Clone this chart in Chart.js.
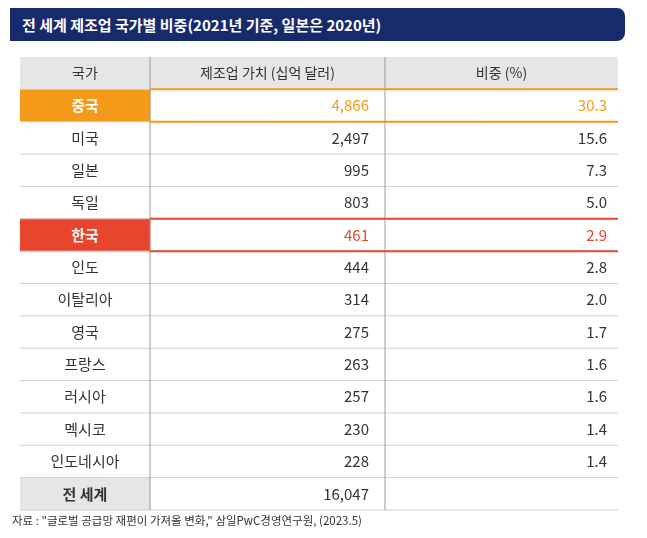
<!DOCTYPE html>
<html><head><meta charset="utf-8">
<script src="https://cdn.jsdelivr.net/npm/chart.js@4"></script>
<style>
body{margin:0;background:#fff;font-family:"Noto Sans CJK KR",sans-serif;}
#wrap{position:relative;width:647px;height:538px;}
#title{position:absolute;left:10px;top:8px;width:615px;height:33px;background:#172a6b;border-radius:0 8px 8px 0;color:#fff;font-size:15px;font-weight:bold;line-height:33px;padding-left:12px;box-sizing:border-box;}
#src{position:absolute;left:12px;top:512px;font-size:11.5px;color:#333;}
</style></head>
<body><div id="wrap">
<canvas id="c" width="647" height="538"></canvas>
<div id="title">전 세계 제조업 국가별 비중(2021년 기준, 일본은 2020년)</div>
<div id="src">자료 : "글로벌 공급망 재편이 가져올 변화," 삼일PwC경영연구원, (2023.5)</div>
</div>
<script>
// table data
const headers = ['국가', '제조업 가치 (십억 달러)', '비중 (%)'];
const countries = ['중국','미국','일본','독일','한국','인도','이탈리아','영국','프랑스','러시아','멕시코','인도네시아','전 세계'];
const values = [4866, 2497, 995, 803, 461, 444, 314, 275, 263, 257, 230, 228, 16047];
const shares = [30.3, 15.6, 7.3, 5.0, 2.9, 2.8, 2.0, 1.7, 1.6, 1.6, 1.4, 1.4, null];

const rowLabels = ['header'].concat(countries);
const colEdges = [0, 130, 365, 598];
const ORANGE = '#f39a1a', RED = '#e8452f', GREY = '#e6e6e6';

function rowColor(name) {
  if (name === '중국') return ORANGE;
  if (name === '한국') return RED;
  return null;
}

const cellData = rowLabels.map((r, i) => {
  if (i === 0) return [colEdges[0], colEdges[3]];
  if (rowColor(r) || r === '전 세계') return [colEdges[0], colEdges[1]];
  return null;
});
const cellColors = rowLabels.map((r, i) => i === 0 || r === '전 세계' ? GREY : (rowColor(r) || GREY));

const tablePlugin = {
  id: 'tableText',
  afterDatasetsDraw(chart) {
    const ctx = chart.ctx, xs = chart.scales.x, ys = chart.scales.y, area = chart.chartArea;
    const band = area.height / rowLabels.length;
    ctx.save();
    // horizontal lines
    rowLabels.forEach((r, i) => {
      const yb = ys.getPixelForValue(i) + band / 2;
      ctx.strokeStyle = '#d0d0d0'; ctx.lineWidth = 1;
      ctx.beginPath(); ctx.moveTo(area.left, yb); ctx.lineTo(area.right, yb); ctx.stroke();
    });
    // vertical lines
    [1, 2].forEach(k => {
      const x = xs.getPixelForValue(colEdges[k]);
      ctx.strokeStyle = '#9a9a9a';
      ctx.beginPath(); ctx.moveTo(x, area.top); ctx.lineTo(x, area.bottom); ctx.stroke();
    });
    // highlighted row borders
    rowLabels.forEach((r, i) => {
      const c = rowColor(r);
      if (!c) return;
      const y = ys.getPixelForValue(i);
      ctx.strokeStyle = c; ctx.lineWidth = 2;
      [y - band / 2, y + band / 2].forEach(yy => {
        ctx.beginPath(); ctx.moveTo(xs.getPixelForValue(colEdges[1]), yy); ctx.lineTo(area.right, yy); ctx.stroke();
      });
    });
    ctx.textBaseline = 'middle';
    rowLabels.forEach((r, i) => {
      const y = ys.getPixelForValue(i);
      const mid = k => (xs.getPixelForValue(colEdges[k]) + xs.getPixelForValue(colEdges[k + 1])) / 2;
      if (i === 0) {
        ctx.fillStyle = '#333'; ctx.font = '14px "Noto Sans CJK KR"'; ctx.textAlign = 'center';
        headers.forEach((h, k) => ctx.fillText(h, mid(k), y));
        return;
      }
      const j = i - 1, c = rowColor(r), total = r === '전 세계';
      ctx.font = (total || c ? 'bold ' : '') + '15px "Noto Sans CJK KR"';
      ctx.textAlign = 'center';
      ctx.fillStyle = c ? '#fff' : '#333';
      ctx.fillText(r, mid(0), y);
      ctx.font = '15px "Noto Sans CJK KR"';
      ctx.textAlign = 'right';
      ctx.fillStyle = c || '#333';
      ctx.fillText(values[j].toLocaleString('en-US'), xs.getPixelForValue(colEdges[2]) - 16, y);
      if (shares[j] !== null) ctx.fillText(shares[j].toFixed(1), xs.getPixelForValue(colEdges[3]) - 11, y);
    });
    ctx.restore();
  }
};

new Chart(document.getElementById('c'), {
  type: 'bar',
  data: {
    labels: rowLabels,
    datasets: [{
      data: cellData,
      backgroundColor: cellColors,
      barPercentage: 1,
      categoryPercentage: 1,
      borderWidth: 0
    }]
  },
  options: {
    indexAxis: 'y',
    responsive: false,
    animation: false,
    layout: { padding: { left: 20, right: 29, top: 57, bottom: 28 } },
    plugins: { legend: { display: false }, tooltip: { enabled: false } },
    scales: {
      x: { type: 'linear', min: 0, max: 598, display: false },
      y: { display: false, offset: true }
    }
  },
  plugins: [tablePlugin]
});
</script>
</body></html>
